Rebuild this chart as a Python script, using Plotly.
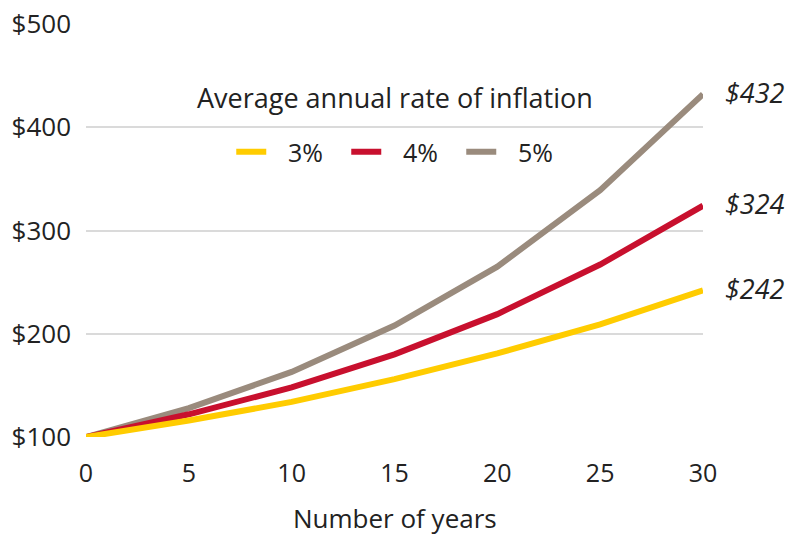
import plotly.graph_objects as go

years = [0, 5, 10, 15, 20, 25, 30]
rate_3 = [100, 116, 134, 156, 181, 209, 242]
rate_4 = [100, 122, 148, 180, 219, 267, 324]
rate_5 = [100, 128, 163, 208, 265, 339, 432]
names = ["3%", "4%", "5%"]
colors = ["#FFCC00", "#C8102E", "#9A8B7D"]
end_labels = ["$242", "$324", "$432"]
y_ticks = [100, 200, 300, 400, 500]
y_tick_text = ["$100", "$200", "$300", "$400", "$500"]
x_ticks = [0, 5, 10, 15, 20, 25, 30]
x_title = "Number of years"
legend_title = "Average annual rate of inflation"

series = [rate_3, rate_4, rate_5]
fig = go.Figure()
for i in [2, 1, 0]:
    fig.add_trace(go.Scatter(
        x=years, y=series[i], mode="lines", name="\u2002\u2009" + names[i],
        line=dict(color=colors[i], width=6), cliponaxis=False,
        legendrank=i + 1,
    ))

for i in range(3):
    fig.add_annotation(x=years[-1], y=series[i][-1], text="<i>" + end_labels[i] + "</i>",
                       xref="x", yref="y", xanchor="left", yanchor="middle",
                       xshift=20, yshift=2, showarrow=False,
                       font=dict(size=27, color="#222222", family="Open Sans"))
fig.add_annotation(x=0.5, y=0.822, xref="paper", yref="paper",
                   text=legend_title, showarrow=False,
                   font=dict(size=27, color="#222222"), xanchor="center", yanchor="middle")
fig.add_annotation(x=0.5, y=-0.2446, xref="paper", yref="paper",
                   text=x_title, showarrow=False,
                   font=dict(size=26, color="#222222"), xanchor="center", yanchor="bottom")

fig.update_layout(
    width=786, height=539,
    margin=dict(l=86, r=83, t=24, b=102),
    plot_bgcolor="white", paper_bgcolor="white",
    font=dict(family="Open Sans", size=24, color="#222222"),
    showlegend=True,
    legend=dict(orientation="h", x=0.515, xanchor="center", y=0.69, yanchor="middle",
                entrywidth=70, entrywidthmode="pixels", itemwidth=30,
                bgcolor="rgba(0,0,0,0)",
                font=dict(size=25, color="#222222")),
    xaxis=dict(range=[0, 30], tickvals=x_ticks, showgrid=False, zeroline=False,
               showline=False, ticks="", ticklabelstandoff=19, automargin=False,
               tickfont=dict(size=25)),
    yaxis=dict(range=[100, 500], tickvals=y_ticks, ticktext=y_tick_text,
               showgrid=True, gridcolor="#DADADA", gridwidth=1.5, automargin=False,
               tickfont=dict(size=26),
               zeroline=False, showline=False, ticks="", ticklabelstandoff=14),
)

fig.write_html("out.html")
